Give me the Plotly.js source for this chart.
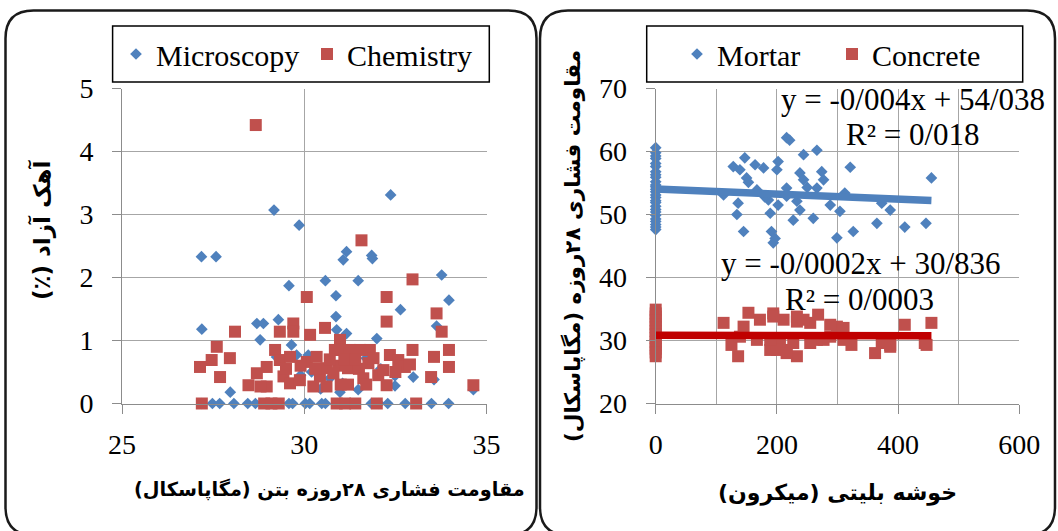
<!DOCTYPE html>
<html>
<head>
<meta charset="utf-8">
<script src="https://cdn.plot.ly/plotly-3.0.1.min.js"></script>
<style>html,body{margin:0;padding:0;background:#fff;}#chart{width:1058px;height:531px;}</style>
</head>
<body>
<div id="chart"></div>
<script>
// ---------- Left panel: free lime vs 28-day strength ----------
const microX = [27.18,27.58,29.17,29.86,32.37,31.16,31.07,31.85,31.87,33.77,33.97,29.58,30.58,31.48,30.87,32.64,30.87,27.19,28.70,28.88,29.29,28.79,31.99,33.63,29.65,30.89,31.16,27.97,32.99,33.56,32.49,32.49,31.48,30.45,30.98,29.79,30.11,29.24,34.64,30.20,31.30,31.70,30.70,29.90,32.10,31.05,
  27.19,27.48,27.68,28.07,28.45,28.66,29.20,29.58,29.68,30.03,30.15,30.48,30.58,30.90,31.20,31.84,32.05,32.29,32.77,33.49,33.96];
const microY = [2.33,2.33,3.07,2.83,3.31,2.41,2.28,2.35,2.30,2.04,1.64,1.87,1.95,1.95,1.71,1.49,1.38,1.18,1.27,1.27,1.33,1.01,1.03,1.23,0.93,1.17,1.11,0.18,0.42,0.38,0.44,0.28,0.22,0.23,0.18,0.77,0.77,0.74,0.22,0.50,0.62,0.72,0.40,0.45,0.55,0.32,
  0,0,0,0,0,0,0,0,0,0,0,0,0,0,0,0,0,0,0,0,0];
const chemX = [28.67,31.57,32.97,30.07,32.26,32.26,33.63,33.77,28.10,30.57,29.33,29.70,29.70,30.16,30.98,27.60,27.46,27.96,27.14,27.69,28.47,28.70,28.97,28.97,29.20,29.33,29.61,29.43,29.61,29.88,30.07,30.34,30.43,30.61,30.61,30.25,30.84,30.98,31.25,31.53,31.80,30.93,31.20,31.50,31.00,31.20,31.62,31.76,32.03,32.17,32.26,32.35,32.58,32.76,32.97,33.56,33.48,33.97,33.97,34.64,30.80,31.10,28.80,
  30.30,30.70,31.40,31.90,32.50,29.90,29.50,31.70,32.90,
  27.19,28.90,29.10,29.30,30.89,31.12,31.40,31.99,33.07];
const chemY = [4.42,2.59,1.97,1.69,1.69,1.30,1.43,1.14,1.14,1.20,1.14,1.27,1.14,1.09,1.01,0.90,0.69,0.72,0.58,0.42,0.29,0.48,0.27,0.58,0.85,0.69,0.74,0.43,0.32,0.37,0.66,0.74,0.43,0.56,0.27,0.27,0.85,0.85,0.85,0.85,0.85,0.60,0.56,0.55,0.30,0.30,0.40,0.64,0.45,0.53,0.29,0.77,0.69,0.58,0.85,0.74,0.42,0.85,0.58,0.29,0.48,0.70,0.27,
  0.55,0.70,0.70,0.72,0.50,0.60,0.55,0.30,0.62,
  0,0,0,0,0,0,0,0,0];

// ---------- Right panel: strength vs cluster size ----------
const mortarX = [0,0,0,0,0,0,0,0,0,0,0,0,0,0,0,0,0,0,0,0,0,0,0,0,0,0,0,
  216,221,266,244,147,128,164,178,200,202,139,321,238,244,150,274,277,167,216,266,312,186,202,136,112,216,233,288,373,134,189,238,304,387,227,260,365,411,446,145,191,194,197,326,299,455,153,180,250];
const mortarY = [60.6,59.8,59.3,58.9,58.1,57.6,56.8,56.3,55.9,55.2,54.7,54.4,54.0,53.6,53.1,52.7,52.2,51.9,51.3,50.8,50.4,49.9,49.3,48.9,48.4,48.0,47.6,
  62.2,61.8,60.2,59.5,59.0,57.6,57.9,57.4,57.1,58.4,57.1,57.5,56.6,55.5,55.8,56.8,55.5,53.9,54.2,54.2,53.4,52.3,51.5,51.8,53.1,52.9,52.1,51.5,51.8,50.0,50.2,50.7,50.5,50.7,49.1,49.4,48.6,48.0,48.6,47.3,47.3,45.5,46.2,47.3,46.3,55.8,55.1,52.8,54.3];
const concreteX = [0,0,0,0,0,0,0,0,0,0,0,0,0,0,
  112,153,145,125,136,172,194,189,216,233,211,233,255,139,167,205,268,299,323,362,387,411,444,455,277,288,310,373,200,216,194,233,244,266,288,310,189,227,255,387,447];
const concreteY = [34.9,34.3,33.8,33.2,32.6,32.1,31.5,31.0,30.4,29.8,29.3,28.7,28.1,27.5,
  32.8,34.4,32.2,29.3,27.5,33.3,34.3,28.5,28.5,27.5,33.3,33.0,32.8,30.6,30.1,29.6,34.1,32.2,29.3,28.0,29.3,32.5,29.6,32.8,30.1,30.6,30.1,29.6,28.5,28.0,33.8,33.8,33.3,30.1,32.5,32.0,30.1,29.6,29.6,29.0,29.3];

// Linear trend lines as printed on the chart
const trendSlope = [-0.004, -0.0002];
const trendIntercept = [54.038, 30.836];
const trendLabels = ['y = -0/004x + 54/038', 'R² = 0/018', 'y = -0/0002x + 30/836', 'R² = 0/0003'];

// Text
const leftXTitle = 'مقاومت فشاری ۲۸روزه بتن (مگاپاسکال)';
const leftYTitle = 'آهک آزاد (٪)';
const rightXTitle = 'خوشه بلیتی (میکرون)';
const rightYTitle = 'مقاومت فشاری ۲۸روزه (مگاپاسکال)';
const rightXTickVals = [0, 200, 400, 600];
const rightXTickText = ['0', '200', '400', '600'];

// ---------- helpers ----------
const W = 1058, H = 531;
const px = v => v / W;
const py = v => 1 - v / H;
const rtl = s => '\u202B' + s + '\u202C';
function roundBox(x0, y0, x1, y1, r) {
  const P = (x, y) => px(x).toFixed(5) + ',' + py(y).toFixed(5);
  return 'M' + P(x0 + r, y0) + ' L' + P(x1 - r, y0) + ' Q' + P(x1, y0) + ' ' + P(x1, y0 + r) +
    ' L' + P(x1, y1 - r) + ' Q' + P(x1, y1) + ' ' + P(x1 - r, y1) +
    ' L' + P(x0 + r, y1) + ' Q' + P(x0, y1) + ' ' + P(x0, y1 - r) +
    ' L' + P(x0, y0 + r) + ' Q' + P(x0, y0) + ' ' + P(x0 + r, y0) + ' Z';
}
function trendLine(xs, i) {
  const xmin = Math.min(...xs), xmax = Math.max(...xs);
  return { x: [xmin, xmax], y: [trendSlope[i] * xmin + trendIntercept[i], trendSlope[i] * xmax + trendIntercept[i]] };
}

const BLUE = '#4F81BD', RED = '#C0504D', DARKRED = '#C00000';
const SERIF = 'Liberation Serif, Times New Roman, serif';
const FA = 'DejaVu Sans, sans-serif';
const GRID = '#a6a6a6', AXIS = '#8c8c8c';

const t1 = trendLine(mortarX, 0), t2 = trendLine(concreteX, 1);

const traces = [
  { x: microX, y: microY, type: 'scatter', mode: 'markers', name: 'Microscopy', legend: 'legend',
    marker: { symbol: 'diamond', size: 9, color: BLUE }, xaxis: 'x', yaxis: 'y', cliponaxis: false },
  { x: chemX, y: chemY, type: 'scatter', mode: 'markers', name: 'Chemistry', legend: 'legend',
    marker: { symbol: 'square', size: 12, color: RED }, xaxis: 'x', yaxis: 'y', cliponaxis: false },
  { x: mortarX, y: mortarY, type: 'scatter', mode: 'markers', name: 'Mortar', legend: 'legend2',
    marker: { symbol: 'diamond', size: 9, color: BLUE }, xaxis: 'x2', yaxis: 'y2', cliponaxis: false },
  { x: concreteX, y: concreteY, type: 'scatter', mode: 'markers', name: 'Concrete', legend: 'legend2',
    marker: { symbol: 'square', size: 12, color: RED }, xaxis: 'x2', yaxis: 'y2', cliponaxis: false },
  { x: t1.x, y: t1.y, type: 'scatter', mode: 'lines', showlegend: false, hoverinfo: 'skip',
    line: { color: BLUE, width: 7.5 }, xaxis: 'x2', yaxis: 'y2', cliponaxis: false },
  { x: t2.x, y: t2.y, type: 'scatter', mode: 'lines', showlegend: false, hoverinfo: 'skip',
    line: { color: DARKRED, width: 7.5 }, xaxis: 'x2', yaxis: 'y2', cliponaxis: false }
];

const axCommon = {
  showgrid: true, gridcolor: GRID, gridwidth: 1, zeroline: false,
  showline: true, linecolor: AXIS, linewidth: 1,
  ticks: 'outside', ticklen: 9, tickcolor: AXIS, tickwidth: 1,
  tickfont: { family: SERIF, size: 28, color: '#000' }
};

const annFont = { family: SERIF, size: 31, color: '#000' };

const layout = {
  width: W, height: H,
  margin: { l: 0, r: 0, t: 0, b: 0, pad: 0 },
  paper_bgcolor: '#fff', plot_bgcolor: '#fff',
  showlegend: true,
  xaxis: Object.assign({}, axCommon, {
    domain: [122 / W, 486.5 / W], range: [25, 35], tick0: 25, dtick: 5, anchor: 'y',
    ticklabelstandoff: 7
  }),
  yaxis: Object.assign({}, axCommon, {
    domain: [1 - 403.5 / H, 1 - 88.5 / H], range: [0, 5], tick0: 0, dtick: 1, anchor: 'x',
    ticklabelstandoff: 13
  }),
  xaxis2: Object.assign({}, axCommon, {
    domain: [655.7 / W, 1019.3 / W], range: [0, 600], tickmode: 'array',
    tickvals: rightXTickVals, ticktext: rightXTickText, anchor: 'y2',
    ticklabelstandoff: 7,
    minor: { dtick: 100, tick0: 0, showgrid: true, gridcolor: GRID, gridwidth: 1, ticks: '' },
    title: { text: '<b>' + rtl(rightXTitle) + '</b>', font: { family: FA, size: 22, color: '#000' }, standoff: 25 }
  }),
  yaxis2: Object.assign({}, axCommon, {
    domain: [1 - 403.5 / H, 1 - 88.5 / H], range: [20, 70], tick0: 20, dtick: 10, anchor: 'x2',
    ticklabelstandoff: 13,
    title: { text: '<b>' + rtl(rightYTitle) + '</b>', font: { family: FA, size: 21.5, color: '#000' }, standoff: 12 }
  }),
  legend: {
    orientation: 'h', x: px(116), y: py(54), xanchor: 'left', yanchor: 'middle',
    bgcolor: 'rgba(0,0,0,0)', borderwidth: 0, entrywidth: 146, entrywidthmode: 'pixels',
    font: { family: SERIF, size: 30, color: '#000' }
  },
  legend2: {
    orientation: 'h', x: px(677), y: py(54), xanchor: 'left', yanchor: 'middle',
    bgcolor: 'rgba(0,0,0,0)', borderwidth: 0, entrywidth: 110, entrywidthmode: 'pixels',
    font: { family: SERIF, size: 30, color: '#000' }
  },
  shapes: [
    { type: 'path', xref: 'paper', yref: 'paper', path: roundBox(5.5, 10.5, 536.5, 535, 28), line: { color: '#1a1a1a', width: 2.5 }, layer: 'above' },
    { type: 'path', xref: 'paper', yref: 'paper', path: roundBox(540, 10.5, 1055, 535, 28), line: { color: '#1a1a1a', width: 2.5 }, layer: 'above' },
    { type: 'rect', xref: 'paper', yref: 'paper', x0: px(112.6), x1: px(489.3), y0: py(82), y1: py(26), line: { color: '#000', width: 1.5 }, layer: 'above' },
    { type: 'rect', xref: 'paper', yref: 'paper', x0: px(646.7), x1: px(1022.7), y0: py(82), y1: py(26), line: { color: '#000', width: 1.5 }, layer: 'above' }
  ],
  annotations: [
    // left panel axis titles (placed as in the original, off-centre)
    { xref: 'paper', yref: 'paper', x: px(329), y: py(489), xanchor: 'center', yanchor: 'middle',
      text: '<b>' + rtl(leftXTitle) + '</b>', showarrow: false, font: { family: FA, size: 19.3, color: '#000' } },
    { xref: 'paper', yref: 'paper', x: px(41), y: py(230), xanchor: 'center', yanchor: 'middle', textangle: -90,
      text: '<b>' + rtl(leftYTitle) + '</b>', showarrow: false, font: { family: FA, size: 23, color: '#000' } },
    // trend-line equations
    { xref: 'x2', yref: 'y2', x: 425, y: 68.2, text: trendLabels[0], showarrow: false, font: annFont },
    { xref: 'x2', yref: 'y2', x: 424, y: 62.7, text: trendLabels[1], showarrow: false, font: annFont },
    { xref: 'x2', yref: 'y2', x: 338, y: 42.2, text: trendLabels[2], showarrow: false, font: annFont },
    { xref: 'x2', yref: 'y2', x: 337, y: 36.5, text: trendLabels[3], showarrow: false, font: annFont }
  ]
};

Plotly.newPlot('chart', traces, layout, { displayModeBar: false, staticPlot: true });
</script>
</body>
</html>
